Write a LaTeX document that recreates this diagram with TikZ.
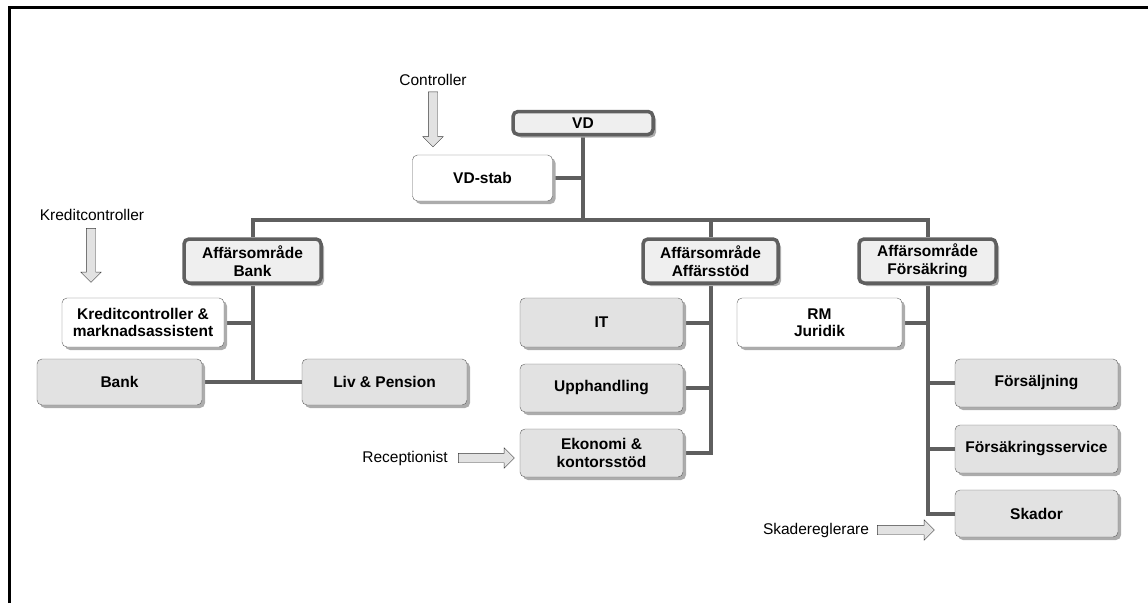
\documentclass[tikz,border=0pt]{standalone}
\usepackage{fontspec}
\setmainfont{Liberation Sans}
\usetikzlibrary{shadows,shapes.arrows,backgrounds}
\definecolor{linegray}{HTML}{5F5F5F}
\definecolor{boxgray}{HTML}{E2E2E2}
\definecolor{headgray}{HTML}{EFEFEF}
\tikzset{
  unit/.style={rounded corners=5pt, draw=gray!75!black, fill=boxgray, align=center,
    font=\bfseries\fontsize{15.5}{17.5}\selectfont, inner sep=1pt,
    drop shadow={shadow xshift=3pt, shadow yshift=-3pt, fill=gray!65, opacity=1}},
  staff/.style={unit, fill=white},
  head/.style={unit, fill=headgray, draw=linegray, line width=3.5pt},
  conn/.style={draw=linegray, line width=4pt},
  lbl/.style={font=\fontsize{15.5}{17}\selectfont},
  blockarrow/.style={single arrow, draw=gray!45!black, fill=boxgray, inner xsep=0pt,
    inner ysep=4.5pt, single arrow head extend=5.5pt, single arrow head indent=0pt}
}
\begin{document}
\begin{tikzpicture}[x=1pt,y=-1pt]
\useasboundingbox (0,0) rectangle (1148,603);
\draw[line width=3pt] (9,603) -- (9,7.5) -- (1148,7.5);

% top
\node[head, minimum width=140, minimum height=23] (vd) at (583,123) {VD};
\node[staff, minimum width=140, minimum height=46] (vdstab) at (482.5,178) {VD-stab};
\node[lbl] (ctrl) at (433,80) {Controller};
\node[blockarrow, minimum height=55, rotate=-90] (ctrlarrow) at (433,117) {};

% business areas
\node[head, minimum width=137, minimum height=44] (bankhead) at (252.5,261) {Affärsområde\\Bank};
\node[head, minimum width=135, minimum height=44] (stodhead) at (710.5,261) {Affärsområde\\Affärsstöd};
\node[head, minimum width=137, minimum height=44] (forshead) at (927.5,261) {Affärsområde\\Försäkring};

% bank
\node[lbl] (kredlbl) at (92,215) {Kreditcontroller};
\node[blockarrow, minimum height=54, rotate=-90] (kredarrow) at (91,253) {};
\node[staff, minimum width=162, minimum height=49] (kred) at (143,322.5) {Kreditcontroller \&\\marknadsassistent};
\node[unit, minimum width=165, minimum height=46] (bank) at (119.5,382) {Bank};
\node[unit, minimum width=165, minimum height=46] (liv) at (384.5,382) {Liv \& Pension};

% affarsstod
\node[unit, minimum width=163, minimum height=49] (it) at (601.5,322.5) {IT};
\node[unit, minimum width=163, minimum height=48] (upph) at (601.5,388) {Upphandling};
\node[unit, minimum width=163, minimum height=48] (eko) at (601.5,453) {Ekonomi \&\\kontorsstöd};
\node[lbl] (recep) at (405,458) {Receptionist};
\node[blockarrow, minimum height=56] (recarrow) at (484,458) {};

% forsakring
\node[staff, minimum width=165, minimum height=49] (rm) at (819.5,322.5) {RM\\Juridik};
\node[unit, minimum width=163, minimum height=48] (forsalj) at (1036.5,383) {Försäljning};
\node[unit, minimum width=163, minimum height=48] (fservice) at (1036.5,449) {Försäkringsservice};
\node[unit, minimum width=163, minimum height=47] (skador) at (1036.5,513.5) {Skador};
\node[lbl] (skade) at (816,530) {Skadereglerare};
\node[blockarrow, minimum height=57] (skadearrow) at (903.5,530) {};

\coordinate (bar) at (0,220);
\begin{scope}[on background layer]
\draw[conn] (vd.south) -- (vd.south |- bar);
\draw[conn] (bankhead.north) |- (forshead.north |- bar) -- (forshead.north);
\draw[conn] (stodhead.north) -- (stodhead.north |- bar);
\draw[conn] (vdstab.east) -- (vdstab.east -| vd.south);
\draw[conn] (bankhead.south) |- (bank.east);
\draw[conn] (kred.east) -- (kred.east -| bankhead.south);
\draw[conn] (bank.east) -- (liv.west);
\draw[conn] (stodhead.south) |- (eko.east);
\draw[conn] (it.east) -- (it.east -| stodhead.south);
\draw[conn] (upph.east) -- (upph.east -| stodhead.south);
\draw[conn] (forshead.south) |- (skador.west);
\draw[conn] (rm.east) -- (rm.east -| forshead.south);
\draw[conn] (forsalj.west) -- (forsalj.west -| forshead.south);
\draw[conn] (fservice.west) -- (fservice.west -| forshead.south);
\end{scope}
\end{tikzpicture}
\end{document}
